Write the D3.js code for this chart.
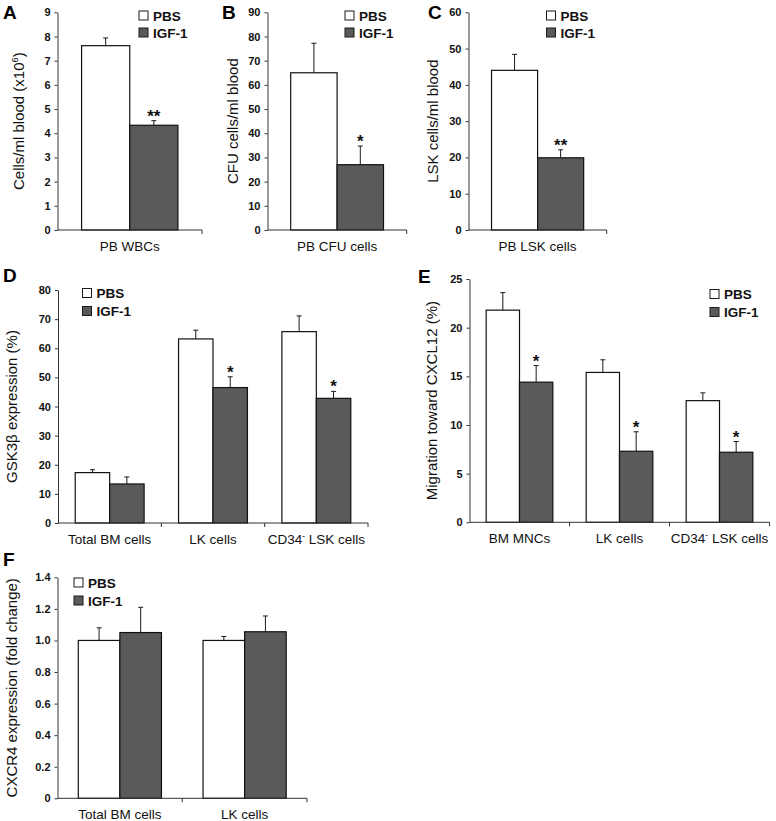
<!DOCTYPE html>
<html>
<head>
<meta charset="utf-8">
<script src="https://cdn.jsdelivr.net/npm/d3@7"></script>
<style>
body { margin: 0; background: #fff; }
svg { display: block; font-family: "Liberation Sans", Arial, sans-serif; }
</style>
</head>
<body>
<div id="wrap"></div>
<script>
var w = 776;
var h = 821;
var series = ["PBS", "IGF-1"];

// A - PB WBCs
var catsA = ["PB WBCs"];
var pbsA = [7.62], pbsErrA = [0.32];
var igfA = [4.33], igfErrA = [0.19];
var sigA = ["**"];
var ticksA = [0, 1, 2, 3, 4, 5, 6, 7, 8, 9];

// B - PB CFU cells
var catsB = ["PB CFU cells"];
var pbsB = [65.0], pbsErrB = [12.2];
var igfB = [27.0], igfErrB = [7.7];
var sigB = ["*"];
var ticksB = [0, 10, 20, 30, 40, 50, 60, 70, 80, 90];

// C - PB LSK cells
var catsC = ["PB LSK cells"];
var pbsC = [44.0], pbsErrC = [4.4];
var igfC = [19.9], igfErrC = [2.2];
var sigC = ["**"];
var ticksC = [0, 10, 20, 30, 40, 50, 60];

// D - GSK3b expression
var catsD = ["Total BM cells", "LK cells", "CD34⁻ LSK cells"];
var pbsD = [17.3, 63.2, 65.7], pbsErrD = [1.0, 3.0, 5.4];
var igfD = [13.4, 46.5, 42.8], igfErrD = [2.4, 3.7, 2.4];
var sigD = ["", "*", "*"];
var ticksD = [0, 10, 20, 30, 40, 50, 60, 70, 80];

// E - migration toward CXCL12
var catsE = ["BM MNCs", "LK cells", "CD34⁻ LSK cells"];
var pbsE = [21.8, 15.4, 12.5], pbsErrE = [1.8, 1.3, 0.8];
var igfE = [14.4, 7.3, 7.2], igfErrE = [1.7, 2.0, 1.1];
var sigE = ["*", "*", "*"];
var ticksE = [0, 5, 10, 15, 20, 25];

// F - CXCR4 expression
var catsF = ["Total BM cells", "LK cells"];
var pbsF = [1.00, 1.00], pbsErrF = [0.08, 0.025];
var igfF = [1.05, 1.055], igfErrF = [0.16, 0.10];
var sigF = ["", ""];
var ticksF = [0, 0.2, 0.4, 0.6, 0.8, 1.0, 1.2, 1.4];

var svg = d3.select("#wrap").append("svg").attr("width", w).attr("height", h);

// splits superscript chars into raised small tspans
function richText(sel, str, size) {
  var sup = { "⁻": "-", "⁶": "6" };
  var parts = str.split(/([⁻⁶])/);
  var raised = false;
  parts.forEach(function(p) {
    if (p === "") return;
    if (sup[p]) {
      sel.append("tspan").attr("font-size", size * 0.62).attr("dy", -size * 0.4).text(sup[p]);
      raised = true;
    } else {
      var t = sel.append("tspan").text(p);
      if (raised) { t.attr("dy", size * 0.4); raised = false; }
    }
  });
}

function panel(p) {
  var g = svg.append("g");
  var y = d3.scaleLinear().domain([0, p.max]).range([p.yBot, p.yTop]);
  var x = d3.scaleBand().domain(p.cats).range([p.x0, p.x1]).padding(0);
  var bw = x.bandwidth();
  var xs = d3.scaleBand().domain(series).range([bw / 6, bw * 5 / 6]).padding(0);

  var rows = p.cats.map(function(c, i) {
    return [
      { cat: c, s: "PBS", v: p.pbs[i], e: p.pbsErr[i], sig: "" },
      { cat: c, s: "IGF-1", v: p.igf[i], e: p.igfErr[i], sig: p.sig[i] }
    ];
  });
  var flat = [].concat.apply([], rows);

  // bars
  g.selectAll("rect.bar").data(flat).enter().append("rect")
    .attr("class", "bar")
    .attr("x", function(d) { return x(d.cat) + xs(d.s); })
    .attr("y", function(d) { return y(d.v); })
    .attr("width", xs.bandwidth())
    .attr("height", function(d) { return p.yBot - y(d.v); })
    .attr("fill", function(d) { return d.s === "PBS" ? "#ffffff" : "#5a5a5a"; })
    .attr("stroke", "#111")
    .attr("stroke-width", 1.2);

  // error bars (upper only)
  var cx = function(d) { return x(d.cat) + xs(d.s) + xs.bandwidth() / 2; };
  g.selectAll("line.err").data(flat).enter().append("line")
    .attr("x1", cx).attr("x2", cx)
    .attr("y1", function(d) { return y(d.v); })
    .attr("y2", function(d) { return y(d.v + d.e); })
    .attr("stroke", "#1a1a1a").attr("stroke-width", 1);
  g.selectAll("line.cap").data(flat).enter().append("line")
    .attr("x1", function(d) { return cx(d) - 2.5; })
    .attr("x2", function(d) { return cx(d) + 2.5; })
    .attr("y1", function(d) { return y(d.v + d.e); })
    .attr("y2", function(d) { return y(d.v + d.e); })
    .attr("stroke", "#1a1a1a").attr("stroke-width", 1);

  // significance stars
  g.selectAll("text.sig").data(flat.filter(function(d) { return d.sig; })).enter().append("text")
    .attr("x", cx)
    .attr("y", function(d) { return y(d.v + d.e) + 1; })
    .attr("text-anchor", "middle")
    .attr("font-size", 17).attr("font-weight", "bold").attr("fill", "#111")
    .text(function(d) { return d.sig; });

  // y axis
  var yAxis = d3.axisLeft(y).tickValues(p.ticks).tickSize(3).tickSizeOuter(0).tickPadding(4)
    .tickFormat(p.fmt || d3.format("d"));
  var ya = g.append("g").attr("transform", "translate(" + p.x0 + ",0)").call(yAxis);
  ya.selectAll("path, line").attr("stroke", "#333");
  ya.selectAll("text").attr("font-size", 11).attr("font-weight", "bold").attr("fill", "#111")
    .attr("font-family", "Liberation Sans, Arial, sans-serif");

  // x axis line with ticks at band edges
  g.append("line").attr("x1", p.x0).attr("x2", p.x1).attr("y1", p.yBot).attr("y2", p.yBot)
    .attr("stroke", "#333");
  g.selectAll("line.xt").data(p.cats).enter().append("line")
    .attr("x1", function(c) { return x(c) + bw; })
    .attr("x2", function(c) { return x(c) + bw; })
    .attr("y1", p.yBot).attr("y2", p.yBot + 4)
    .attr("stroke", "#333");

  g.selectAll("text.cat").data(p.cats).enter().append("text")
    .attr("x", function(c) { return x(c) + bw / 2; })
    .attr("y", p.yBot + 21)
    .attr("text-anchor", "middle")
    .attr("font-size", 13.5).attr("fill", "#111")
    .each(function(c) { richText(d3.select(this), c, 13.5); });

  // y title
  var t = g.append("text")
    .attr("transform", "translate(" + (p.titleX + 5) + "," + ((p.yTop + p.yBot) / 2) + ") rotate(-90)")
    .attr("text-anchor", "middle")
    .attr("font-size", 15).attr("fill", "#111");
  richText(t, p.title, 15);

  // legend
  series.forEach(function(s, i) {
    var ly = p.ly + i * p.lgap;
    g.append("rect").attr("x", p.lx).attr("y", ly - 4.5).attr("width", 9).attr("height", 9)
      .attr("fill", s === "PBS" ? "#fff" : "#5a5a5a").attr("stroke", "#1a1a1a").attr("stroke-width", 1);
    g.append("text").attr("x", p.lx + 14).attr("y", ly + 5)
      .attr("font-size", 13.5).attr("font-weight", "bold").attr("fill", "#111").text(s);
  });

  // panel letter
  g.append("text").attr("x", p.lx0).attr("y", p.ly0)
    .attr("font-size", 19).attr("font-weight", "bold").text(p.letter);
}

panel({ letter: "A", lx0: 3, ly0: 19, cats: catsA, pbs: pbsA, pbsErr: pbsErrA, igf: igfA, igfErr: igfErrA, sig: sigA,
  ticks: ticksA, max: 9, x0: 57.5, x1: 202, yTop: 12.3, yBot: 230, title: "Cells/ml blood (x10⁶)", titleX: 19,
  lx: 139, ly: 15.5, lgap: 17 });
panel({ letter: "B", lx0: 222, ly0: 19, cats: catsB, pbs: pbsB, pbsErr: pbsErrB, igf: igfB, igfErr: igfErrB, sig: sigB,
  ticks: ticksB, max: 90, x0: 267.5, x1: 406.7, yTop: 12.3, yBot: 230, title: "CFU cells/ml blood", titleX: 233,
  lx: 345, ly: 15.5, lgap: 17 });
panel({ letter: "C", lx0: 428, ly0: 19, cats: catsC, pbs: pbsC, pbsErr: pbsErrC, igf: igfC, igfErr: igfErrC, sig: sigC,
  ticks: ticksC, max: 60, x0: 468.5, x1: 606.7, yTop: 12.3, yBot: 230, title: "LSK cells/ml blood", titleX: 432.5,
  lx: 546.5, ly: 15.5, lgap: 17 });
panel({ letter: "D", lx0: 3, ly0: 282, cats: catsD, pbs: pbsD, pbsErr: pbsErrD, igf: igfD, igfErr: igfErrD, sig: sigD,
  ticks: ticksD, max: 80, x0: 58, x1: 368, yTop: 290, yBot: 523, title: "GSK3β expression (%)", titleX: 12,
  lx: 82.5, ly: 293, lgap: 18 });
panel({ letter: "E", lx0: 418, ly0: 283, cats: catsE, pbs: pbsE, pbsErr: pbsErrE, igf: igfE, igfErr: igfErrE, sig: sigE,
  ticks: ticksE, max: 25, x0: 469.5, x1: 769.5, yTop: 279, yBot: 522.3, title: "Migration toward CXCL12 (%)", titleX: 431.5,
  lx: 710, ly: 294, lgap: 18 });
panel({ letter: "F", lx0: 3, ly0: 566, cats: catsF, pbs: pbsF, pbsErr: pbsErrF, igf: igfF, igfErr: igfErrF, sig: sigF,
  ticks: ticksF, max: 1.4, x0: 57.5, x1: 307, yTop: 577.3, yBot: 798.3, title: "CXCR4 expression (fold change)", titleX: 12,
  lx: 74, ly: 582.5, lgap: 18, fmt: function(d) { return d === 0 ? "0" : d.toFixed(1); } });
</script>
</body>
</html>
